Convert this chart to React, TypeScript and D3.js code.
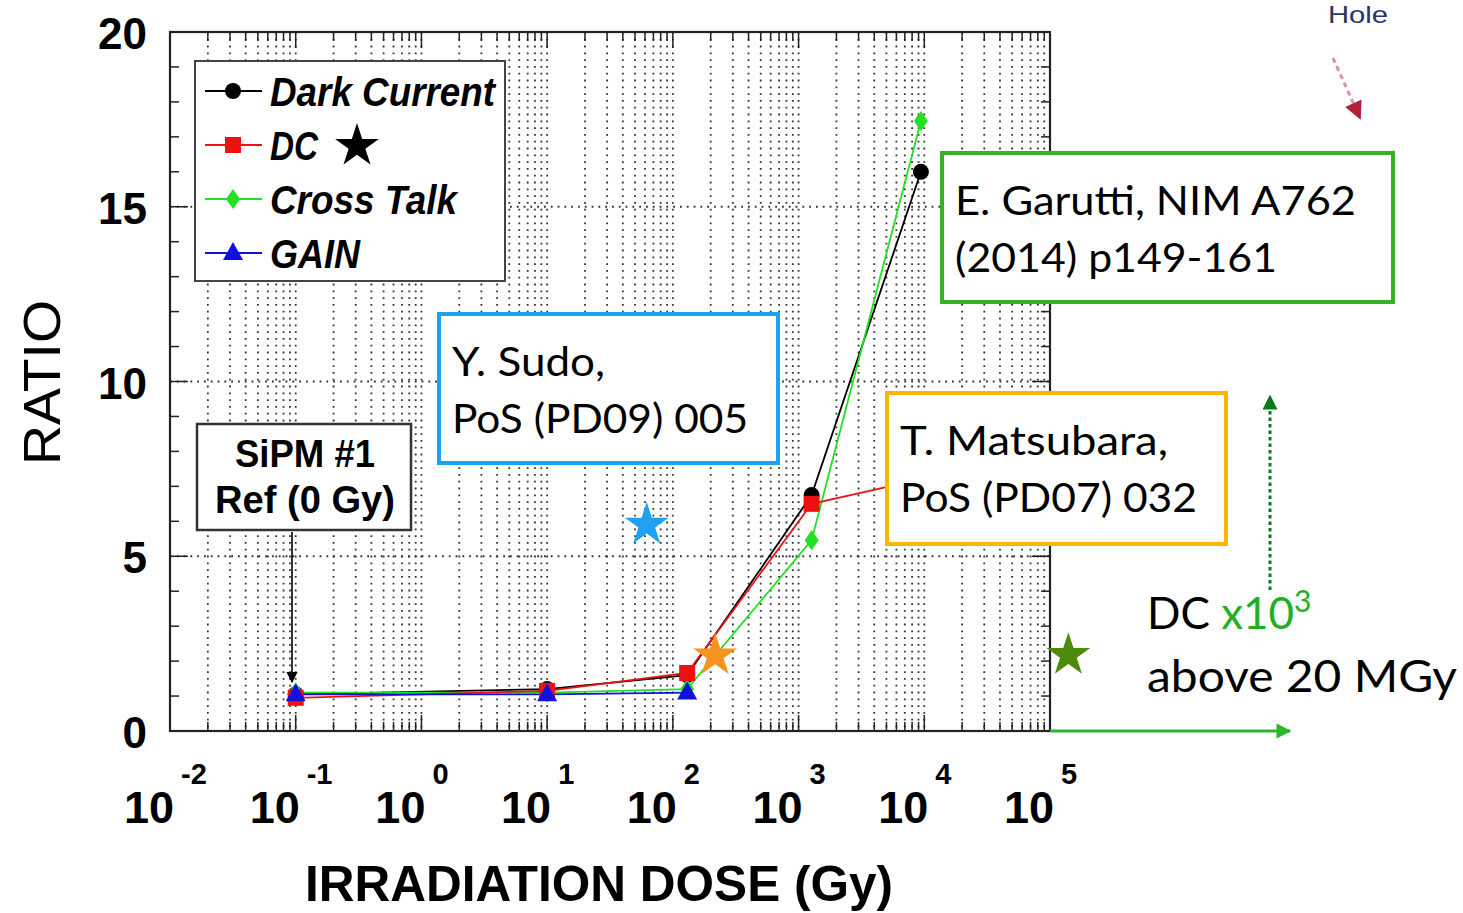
import React from "react";
import * as d3 from "d3";

// Irradiation test results: ratio to the un-irradiated reference SiPM
const doses = [0.1, 10, 130, 1270, 9400];
const darkCurrent = [1.05, 1.2, 1.6, 6.75, 16.0];
const dcStar = [0.95, 1.15, 1.66, 6.5, 7.2];
const crossTalk = [1.1, 1.1, 1.2, 5.46, 17.45];
const gainDoses = [0.1, 10, 130];
const gain = [1.05, 1.05, 1.1];

// DC measurements from other publications (stars)
const refDoses = [62, 217, 140000];
const refRatios = [5.9, 2.16, 2.17];
const refColors = ["#1fa0f0", "#f7941d", "#4e8a0c"];

const yTicks = [0, 5, 10, 15, 20];
const xExponents = [-2, -1, 0, 1, 2, 3, 4, 5];

const W = 1463;
const H = 913;
const L = 170, R = 1050, T = 32, B = 731;

const AXIS_FONT = "'Liberation Sans', Arial, Helvetica, sans-serif";
const NOTE_FONT = "Lato, 'Open Sans', sans-serif";

function starPath(r: number) {
  return d3.symbol(d3.symbolStar, (r * r) / 0.8908130915292852)()!;
}

export default function App() {
  const x = d3.scaleLog().domain([1e-2, 1e5]).range([L, R]);
  const y = d3.scaleLinear().domain([0, 20]).range([B, T]);

  const line = d3
    .line<[number, number]>()
    .x((d) => x(d[0]))
    .y((d) => y(d[1]));

  const zip = (xs: number[], ys: number[]) =>
    xs.map((v, i) => [v, ys[i]] as [number, number]);

  // minor log positions
  const logTicks: { v: number; major: boolean }[] = [];
  for (let e = -2; e <= 4; e++) {
    for (let k = 1; k <= 9; k++) {
      logTicks.push({ v: k * Math.pow(10, e), major: k === 1 });
    }
  }
  logTicks.push({ v: 1e5, major: true });

  const yMinor = d3.range(0, 21, 1);

  const circle = (cx: number, cy: number, c: string, key: string) => (
    <circle key={key} cx={cx} cy={cy} r={8} fill={c} />
  );
  const square = (cx: number, cy: number, c: string, key: string) => (
    <rect key={key} x={cx - 8} y={cy - 8} width={16} height={16} fill={c} />
  );
  const diamond = (cx: number, cy: number, c: string, key: string) => (
    <path
      key={key}
      d={`M${cx},${cy - 10}L${cx + 7},${cy}L${cx},${cy + 10}L${cx - 7},${cy}Z`}
      fill={c}
    />
  );
  const triangle = (cx: number, cy: number, c: string, key: string) => (
    <path
      key={key}
      d={`M${cx},${cy - 11}L${cx + 10},${cy + 7}L${cx - 10},${cy + 7}Z`}
      fill={c}
    />
  );

  const series = [
    { name: "Dark Current", xs: doses, ys: darkCurrent, color: "#000000", marker: circle },
    { name: "Cross Talk", xs: doses, ys: crossTalk, color: "#22e022", marker: diamond },
    { name: "DC", xs: doses, ys: dcStar, color: "#ee1111", marker: square },
    { name: "GAIN", xs: gainDoses, ys: gain, color: "#1010e0", marker: triangle },
  ];

  const legendRows = [
    { label: "Dark Current", color: "#000000", marker: circle, len: 225, star: false },
    { label: "DC", color: "#ee1111", marker: square, len: 48, star: true },
    { label: "Cross Talk", color: "#22e022", marker: diamond, len: 187, star: false },
    { label: "GAIN", color: "#1010e0", marker: triangle, len: 90, star: false },
  ];

  return (
    <svg
      width={W}
      height={H}
      style={{ position: "absolute", left: 0, top: 0, background: "#fff" }}
    >
      <defs>
        <marker id="arrBlack" viewBox="0 0 10 10" refX="9" refY="5" markerWidth="7" markerHeight="9" orient="auto">
          <path d="M0,0L10,5L0,10Z" fill="#000" />
        </marker>
        <marker id="arrGreen" viewBox="0 0 10 10" refX="9" refY="5" markerWidth="6" markerHeight="5" orient="auto">
          <path d="M0,0L10,5L0,10Z" fill="#2db52d" />
        </marker>
        <marker id="arrDkGreen" viewBox="0 0 10 10" refX="9" refY="5" markerWidth="5" markerHeight="5" orient="auto">
          <path d="M0,0L10,5L0,10Z" fill="#0b7a1e" />
        </marker>
        <marker id="arrRed" viewBox="0 0 10 10" refX="9" refY="5" markerWidth="6" markerHeight="6" orient="auto">
          <path d="M0,0L10,5L0,10Z" fill="#b0203a" />
        </marker>
      </defs>

      {/* grid */}
      <g stroke="#333" strokeWidth={1.8} strokeDasharray="1.8 5">
        {logTicks.map((t, i) => (
          <line key={"gx" + i} x1={x(t.v)} x2={x(t.v)} y1={T} y2={B} />
        ))}
        {[5, 10, 15].map((v) => (
          <line key={"gy" + v} x1={L} x2={R} y1={y(v)} y2={y(v)} />
        ))}
      </g>

      {/* ticks */}
      <g stroke="#222" strokeWidth={1.5}>
        {logTicks.map((t, i) => (
          <g key={"tx" + i}>
            <line x1={x(t.v)} x2={x(t.v)} y1={B} y2={B - (t.major ? 16 : 9)} />
            <line x1={x(t.v)} x2={x(t.v)} y1={T} y2={T + (t.major ? 16 : 9)} />
          </g>
        ))}
        {yMinor.map((v) => {
          const major = v % 5 === 0;
          return (
            <g key={"ty" + v}>
              <line x1={L} x2={L + (major ? 18 : 9)} y1={y(v)} y2={y(v)} />
              <line x1={R} x2={R - (major ? 18 : 9)} y1={y(v)} y2={y(v)} />
            </g>
          );
        })}
      </g>

      {/* frame */}
      <rect x={L} y={T} width={R - L} height={B - T} fill="none" stroke="#222" strokeWidth={2.2} />

      {/* y tick labels */}
      <g fontFamily={AXIS_FONT} fontWeight="bold" fontSize={44} fill="#000" textAnchor="end">
        {yTicks.map((v) => (
          <text key={"yl" + v} x={147} y={y(v) + 17}>
            {v}
          </text>
        ))}
      </g>

      {/* x tick labels */}
      <g fontFamily={AXIS_FONT} fontWeight="bold" fill="#000">
        {xExponents.map((e) => {
          const px = x(Math.pow(10, e));
          return (
            <g key={"xl" + e}>
              <text x={px + 4} y={823} fontSize={45} textAnchor="end">
                10
              </text>
              <text x={px + 11} y={784} fontSize={29} textAnchor="start">
                {e}
              </text>
            </g>
          );
        })}
      </g>

      {/* axis titles */}
      <text
        x={305}
        y={901}
        fontFamily={AXIS_FONT}
        fontWeight="bold"
        fontSize={50}
        textLength={588}
        lengthAdjust="spacingAndGlyphs"
      >
        IRRADIATION DOSE (Gy)
      </text>
      <text
        transform="translate(60,465) rotate(-90)"
        fontFamily={AXIS_FONT}
        fontSize={52}
        textLength={165}
        lengthAdjust="spacingAndGlyphs"
      >
        RATIO
      </text>

      {/* series lines */}
      {series.map((s) => (
        <path
          key={"l" + s.name}
          d={line(zip(s.xs, s.ys))!}
          fill="none"
          stroke={s.color}
          strokeWidth={1.8}
        />
      ))}
      {/* series markers */}
      {series.map((s) =>
        s.xs.map((v, i) => s.marker(x(v), y(s.ys[i]), s.color, s.name + i))
      )}

      {/* legend */}
      <rect x={195} y={61} width={310} height={220} fill="#fff" stroke="#444" strokeWidth={2} />
      {legendRows.map((r, i) => {
        const cy = 91 + i * 54;
        return (
          <g key={"lg" + i}>
            <line x1={205} x2={262} y1={cy} y2={cy} stroke={r.color} strokeWidth={2} />
            {r.marker(233, cy, r.color, "lm" + i)}
            <text
              x={270}
              y={cy + 15}
              fontFamily={AXIS_FONT}
              fontWeight="bold"
              fontStyle="italic"
              fontSize={40}
              textLength={r.len}
              lengthAdjust="spacingAndGlyphs"
            >
              {r.label}
            </text>
            {r.star && (
              <path d={starPath(23)} transform={`translate(357,${cy + 1})`} fill="#000" />
            )}
          </g>
        );
      })}

      {/* reference SiPM note */}
      <rect x={197} y={424} width={214} height={106} fill="#fff" stroke="#333" strokeWidth={2.5} />
      <g fontFamily={AXIS_FONT} fontWeight="bold" fontSize={38} textAnchor="middle">
        <text x={305} y={467} textLength={140} lengthAdjust="spacingAndGlyphs">
          SiPM #1
        </text>
        <text x={305} y={513} textLength={180} lengthAdjust="spacingAndGlyphs">
          Ref (0 Gy)
        </text>
      </g>
      <line x1={292} y1={532} x2={292} y2={682} stroke="#000" strokeWidth={1.6} markerEnd="url(#arrBlack)" />

      {/* publication stars */}
      {refDoses.map((d, i) => (
        <path
          key={"st" + i}
          d={starPath(23)}
          transform={`translate(${x(d)},${y(refRatios[i])})`}
          fill={refColors[i]}
        />
      ))}

      {/* publication boxes */}
      <g fontFamily={NOTE_FONT} fontSize={41} fill="#000">
        <rect x={439} y={314} width={339} height={149} fill="#fff" stroke="#1fa0f0" strokeWidth={4} />
        <text x={452} y={376} textLength={153} lengthAdjust="spacingAndGlyphs">Y. Sudo,</text>
        <text x={452} y={433} textLength={296} lengthAdjust="spacingAndGlyphs">PoS (PD09) 005</text>

        <rect x={942} y={153} width={451} height={149} fill="#fff" stroke="#3aad2a" strokeWidth={4} />
        <text x={955} y={215} textLength={401} lengthAdjust="spacingAndGlyphs">E. Garutti, NIM A762</text>
        <text x={955} y={272} textLength={322} lengthAdjust="spacingAndGlyphs">(2014) p149-161</text>

        <rect x={887} y={393} width={339} height={151} fill="#fff" stroke="#f8b800" strokeWidth={4} />
        <text x={900} y={455} textLength={268} lengthAdjust="spacingAndGlyphs">T. Matsubara,</text>
        <text x={900} y={512} textLength={297} lengthAdjust="spacingAndGlyphs">PoS (PD07) 032</text>
      </g>

      {/* high dose note */}
      <line x1={R} y1={B} x2={1290} y2={B} stroke="#2db52d" strokeWidth={3} markerEnd="url(#arrGreen)" />
      <line
        x1={1270}
        y1={590}
        x2={1270}
        y2={396}
        stroke="#0b7a1e"
        strokeWidth={3}
        strokeDasharray="3.5 3"
        markerEnd="url(#arrDkGreen)"
      />
      <g fontFamily={NOTE_FONT} fontSize={44}>
        <text x={1147} y={629}>
          <tspan fill="#000">DC </tspan>
          <tspan fill="#22b022">x10</tspan>
          <tspan fill="#22b022" fontSize={30} dy={-17}>3</tspan>
        </text>
        <text x={1147} y={692} fill="#000" textLength={310} lengthAdjust="spacingAndGlyphs">
          above 20 MGy
        </text>
      </g>

      {/* hole pointer */}
      <text x={1328} y={23} fontFamily={AXIS_FONT} fontSize={24} fill="#2a3466" textLength={60} lengthAdjust="spacingAndGlyphs">
        Hole
      </text>
      <line
        x1={1333}
        y1={58}
        x2={1360}
        y2={118}
        stroke="#c04a66"
        strokeOpacity={0.6}
        strokeWidth={3}
        strokeDasharray="5 4"
        markerEnd="url(#arrRed)"
      />
    </svg>
  );
}
